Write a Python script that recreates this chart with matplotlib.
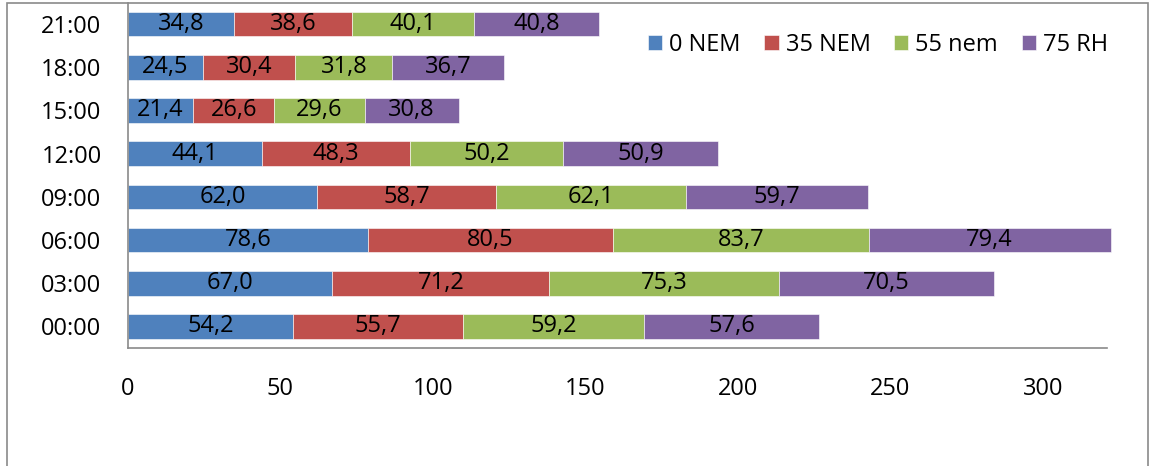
import numpy as np
import matplotlib
matplotlib.use('Agg')
import matplotlib.pyplot as plt
from matplotlib.patches import Rectangle

plt.rcParams['font.family'] = ['Open Sans', 'DejaVu Sans']

hours = ['00:00', '03:00', '06:00', '09:00', '12:00', '15:00', '18:00', '21:00']
series = ['0 NEM', '35 NEM', '55 nem', '75 RH']
nem0 = [54.2, 67.0, 78.6, 62.0, 44.1, 21.4, 24.5, 34.8]
nem35 = [55.7, 71.2, 80.5, 58.7, 48.3, 26.6, 30.4, 38.6]
nem55 = [59.2, 75.3, 83.7, 62.1, 50.2, 29.6, 31.8, 40.1]
rh75 = [57.6, 70.5, 79.4, 59.7, 50.9, 30.8, 36.7, 40.8]
colors = ['#4F81BD', '#C0504D', '#9BBB59', '#8064A2']

fs = 17

W, H = 1151, 466
fig = plt.figure(figsize=(W/100., H/100.), dpi=100)
ax = fig.add_axes([128./W, (H-348.)/H, (1107.-128.)/W, (348.-2.5)/H])

y = np.arange(len(hours))
left = np.zeros(len(hours))
for name, vals, col in zip(series, [nem0, nem35, nem55, rh75], colors):
    vals = np.array(vals)
    ax.barh(y, vals, left=left, height=0.57, color=col, label=name,
            edgecolor='white', linewidth=0.4, clip_on=False)
    for yi, l, v in zip(y, left, vals):
        ax.text(l + v/2., yi, ('%.1f' % v).replace('.', ','), ha='center', va='center',
                fontsize=fs, color='black')
    left += vals

ax.set_xlim(0, 321)
ax.set_ylim(-0.5, 7.5)
ax.set_xticks([0, 50, 100, 150, 200, 250, 300])
ax.set_yticks(y)
ax.set_yticklabels(hours)
ax.tick_params(axis='both', length=0, labelsize=fs)
ax.tick_params(axis='y', pad=19)
ax.tick_params(axis='x', pad=21)
for s in ['top', 'right']:
    ax.spines[s].set_visible(False)
for s in ['left', 'bottom']:
    ax.spines[s].set_color('#8a8a8a')
    ax.spines[s].set_linewidth(1.2)

fig.legend(loc='center right', bbox_to_anchor=(1108./W, 1 - 45./H), ncol=4, frameon=False,
           fontsize=fs, handlelength=0.6, handleheight=0.6, handletextpad=0.3,
           columnspacing=1.0, borderaxespad=0, borderpad=0)

# outer chart frame
fig.add_artist(Rectangle((7./W, -0.05), (1148.-7.)/W, 1.05 - 3./H, transform=fig.transFigure,
                         fill=False, edgecolor='#8a8a8a', linewidth=1.2))

plt.savefig('out.png', dpi=100)
